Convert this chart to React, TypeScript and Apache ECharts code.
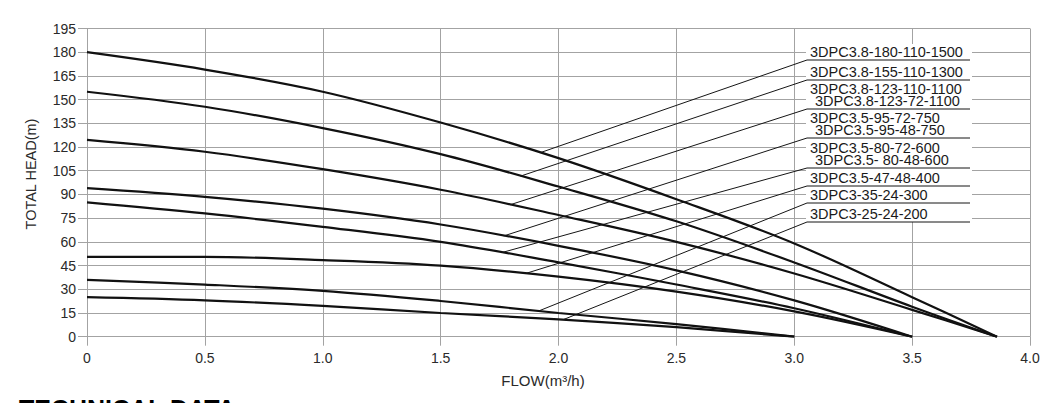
import React, { useEffect, useRef } from "react";
import * as echarts from "echarts";

// ---------- data ----------
const flowMin = 0;
const flowMax = 4;
const flowStep = 0.5;
const headMin = 0;
const headMax = 195;
const headStep = 15;

const curve180 = [[0, 180], [0.5, 169], [1.0, 155], [1.5, 135.5], [2.0, 113], [2.5, 87], [3.0, 59], [3.5, 25], [3.86, 0]];
const curve155 = [[0, 155], [0.5, 145.5], [1.0, 132], [1.5, 115.5], [2.0, 95], [2.5, 73], [3.0, 47], [3.5, 19], [3.86, 0]];
const curve123 = [[0, 124.5], [0.5, 117], [1.0, 106], [1.5, 93], [2.0, 77], [2.5, 60], [3.0, 40], [3.5, 17], [3.86, 0]];
const curve95 = [[0, 94], [0.5, 88.5], [1.0, 81], [1.5, 71], [2.0, 57.5], [2.5, 42], [3.0, 23], [3.5, 0]];
const curve80 = [[0, 85], [0.5, 78], [1.0, 69.5], [1.5, 60], [2.0, 47], [2.5, 33], [3.0, 18], [3.5, 0]];
const curve47 = [[0, 50.5], [0.5, 50.5], [1.0, 48.5], [1.5, 45], [2.0, 38], [2.5, 28.5], [3.0, 16], [3.5, 0]];
const curve35 = [[0, 36], [0.5, 33], [1.0, 29], [1.5, 22.6], [2.0, 15], [2.5, 8], [3.0, 0]];
const curve25 = [[0, 25], [0.5, 23], [1.0, 19.5], [1.5, 15], [2.0, 11], [2.5, 6], [3.0, 0]];

const curves = [curve180, curve155, curve123, curve95, curve80, curve47, curve35, curve25];

const labelGroups = [
  ["3DPC3.8-180-110-1500"],
  ["3DPC3.8-155-110-1300"],
  ["3DPC3.8-123-110-1100", "3DPC3.8-123-72-1100"],
  ["3DPC3.5-95-72-750", "3DPC3.5-95-48-750"],
  ["3DPC3.5-80-72-600", "3DPC3.5- 80-48-600"],
  ["3DPC3.5-47-48-400"],
  ["3DPC3-35-24-300"],
  ["3DPC3-25-24-200"],
];

// flow at which each leader line touches its curve
const leaderFlow = [1.923, 1.839, 1.796, 1.768, 1.76, 1.86, 1.916, 2.02];

const xAxisTitle = "FLOW(m³/h)";
const yAxisTitle = "TOTAL HEAD(m)";
const footerTitle = "TECHNICAL DATA";

// ---------- layout (pixels) ----------
const W = 1060;
const H = 403;
const GRID = { left: 87, right: 30, top: 28.5, bottom: 66.3 };
const underlineY = [60, 80, 109, 138, 168, 186, 203, 222];
const underlineX0 = 807;
const underlineX1 = 970;
const labelX = 810;
const labelIndent = 5;
const FONT = "'Liberation Sans', Arial, Helvetica, sans-serif";

function headAt(curve: number[][], f: number): number {
  for (let i = 0; i < curve.length - 1; i++) {
    const [x0, y0] = curve[i];
    const [x1, y1] = curve[i + 1];
    if (f >= x0 && f <= x1) return y0 + ((f - x0) / (x1 - x0)) * (y1 - y0);
  }
  return curve[curve.length - 1][1];
}

export default function App() {
  const ref = useRef<HTMLDivElement>(null);

  useEffect(() => {
    if (!ref.current) return;
    const chart = echarts.init(ref.current, null, { renderer: "svg" });
    const gridColor = "#a3a3a3";
    chart.setOption({
      animation: false,
      backgroundColor: "#ffffff",
      grid: { left: GRID.left, right: GRID.right, top: GRID.top, bottom: GRID.bottom, containLabel: false },
      xAxis: {
        type: "value",
        min: flowMin,
        max: flowMax,
        interval: flowStep,
        axisLine: { show: true, lineStyle: { color: gridColor, width: 1 } },
        axisTick: { show: true, length: 9, lineStyle: { color: gridColor } },
        splitLine: { show: true, lineStyle: { color: gridColor, width: 1 } },
        axisLabel: {
          color: "#2a2a2a",
          fontSize: 14,
          fontFamily: FONT,
          margin: 14,
          formatter: (v: number) => (v === 0 ? "0" : v.toFixed(1)),
        },
      },
      yAxis: {
        type: "value",
        min: headMin,
        max: headMax,
        interval: headStep,
        axisLine: { show: true, lineStyle: { color: gridColor, width: 1 } },
        axisTick: { show: true, length: 9, lineStyle: { color: gridColor } },
        splitLine: { show: true, lineStyle: { color: gridColor, width: 1 } },
        axisLabel: { color: "#2a2a2a", fontSize: 14, fontFamily: FONT, margin: 11 },
      },
      series: curves.map((c, i) => ({
        type: "line",
        name: labelGroups[i][0],
        data: c,
        smooth: 0.35,
        showSymbol: false,
        symbol: "none",
        lineStyle: { color: "#111111", width: 2.2 },
        z: 3,
      })),
    });

    const graphic: any[] = [];
    graphic.push({
      type: "rect",
      silent: true,
      z: 10,
      shape: { x: underlineX0 - 1, y: 44, width: 166, height: underlineY[underlineY.length - 1] - 44 },
      style: { fill: "#ffffff" },
    });
    curves.forEach((c, i) => {
      const f = leaderFlow[i];
      const p = chart.convertToPixel({ gridIndex: 0 }, [f, headAt(c, f)]) as number[];
      const uy = underlineY[i];
      graphic.push({
        type: "polyline",
        silent: true,
        z: 11,
        shape: { points: [[p[0], p[1]], [underlineX0, uy], [underlineX1, uy]] },
        style: { stroke: "#151515", lineWidth: 1, fill: null },
      });
      const rows = labelGroups[i];
      rows.forEach((t, r) => {
        const fromBottom = rows.length - 1 - r;
        graphic.push({
          type: "text",
          silent: true,
          z: 12,
          x: labelX + (r > 0 ? labelIndent : 0),
          y: uy - 8 - fromBottom * 11.7,
          style: {
            text: t,
            fontSize: 14.5,
            lineHeight: 11,
            fontFamily: FONT,
            fill: "#1a1a1a",
            align: "left",
            verticalAlign: "middle",
          },
        });
      });
    });
    graphic.push({
      type: "text",
      silent: true,
      z: 12,
      x: 31,
      y: 174,
      rotation: Math.PI / 2,
      style: {
        text: yAxisTitle,
        fontSize: 14.5,
        fontFamily: FONT,
        fill: "#2a2a2a",
        align: "center",
        verticalAlign: "middle",
      },
    });
    graphic.push({
      type: "text",
      silent: true,
      z: 12,
      x: 543,
      y: 380,
      style: {
        text: xAxisTitle,
        fontSize: 15,
        fontFamily: FONT,
        fill: "#2a2a2a",
        align: "center",
        verticalAlign: "middle",
      },
    });
    graphic.push({
      type: "text",
      silent: true,
      z: 12,
      x: 19,
      y: 408.5,
      style: {
        text: footerTitle,
        fontSize: 25,
        fontWeight: 900,
        fontFamily: FONT,
        fill: "#000000",
        align: "left",
        verticalAlign: "middle",
      },
    });
    chart.setOption({ graphic });

    return () => chart.dispose();
  }, []);

  return (
    <div
      ref={ref}
      style={{ position: "fixed", left: 0, top: 0, width: W, height: H, background: "#fff" }}
    />
  );
}
